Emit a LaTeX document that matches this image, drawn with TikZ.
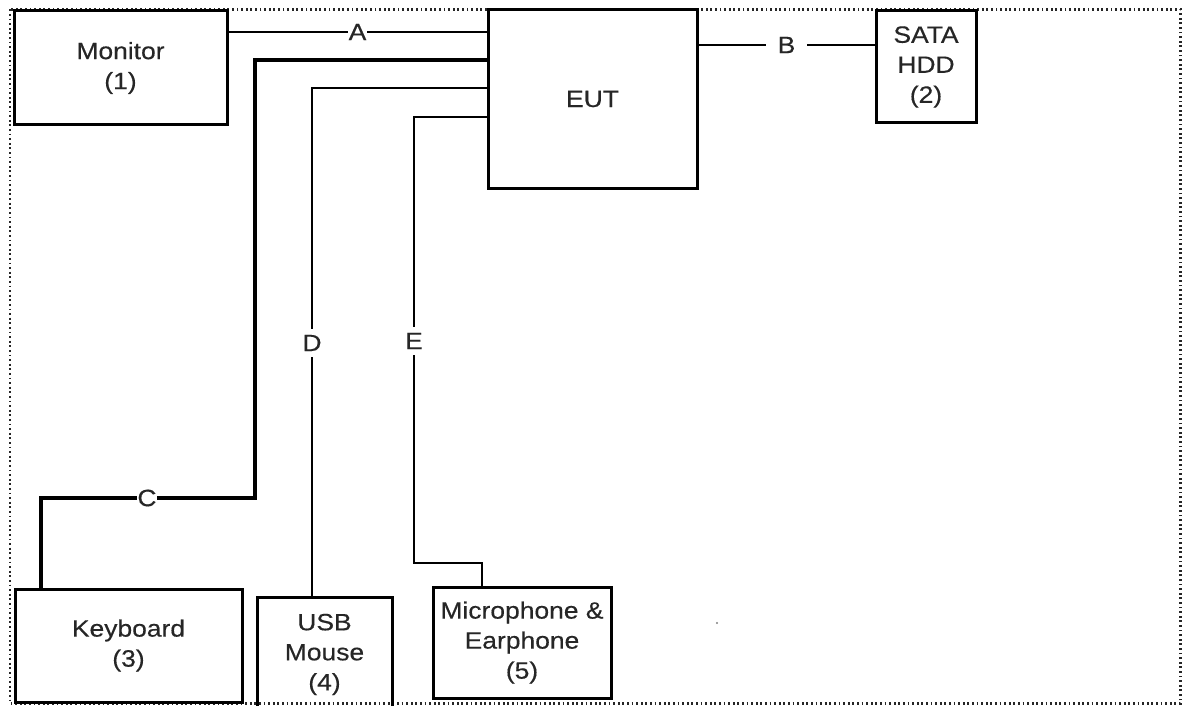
\documentclass[tikz,border=0pt]{standalone}
\usepackage{fontspec}
\setmainfont{Liberation Sans}[FakeStretch=1.12,FakeBold=0.4]
\begin{document}
\begin{tikzpicture}[x=1pt,y=-1pt,
  txt/.style={font=\fontsize{23.6}{30}\selectfont, text=black!85},
  box/.style={txt, draw, line width=3pt, inner sep=0pt, align=center},
  wire/.style={line width=2.4pt},
  lbl/.style={txt, fill=white, inner sep=1pt}]
\useasboundingbox (0,0) rectangle (1183,706);
\clip (0,0) rectangle (1183,706);
% dotted frame
\draw[black!85, line width=2.2pt, dash pattern=on 1.8pt off 2.8pt] (10,9.5) rectangle (1180.5,703.5);
% boxes
\node[box, minimum width=213pt, minimum height=114pt] (mon) at (120.5,68) {Monitor\\(1)};
\node[box, minimum width=209pt, minimum height=178pt] (eut) at (592.5,99) {EUT};
\node[box, minimum width=100pt, minimum height=112pt] (hdd) at (926,67) {SATA\\HDD\\(2)};
\node[box, minimum width=227pt, minimum height=113pt] (kb) at (128.5,645.5) {Keyboard\\(3)};
\node[box, minimum width=135pt, minimum height=115pt] (ms) at (324.5,654.5) {USB\\Mouse\\(4)};
\node[box, minimum width=178pt, minimum height=111pt] (mic) at (522,642.5) {Microphone \&\\Earphone\\(5)};
% routing points
\coordinate (ya) at (0,32);
\coordinate (yb) at (0,45);
\coordinate (c1) at (255,60);
\coordinate (c2) at (255,498);
\coordinate (c3) at (41,498);
\coordinate (d1) at (312,88);
\coordinate (e1) at (414,117);
\coordinate (e2) at (414,563);
\coordinate (e3) at (482,563);
% A
\draw[wire] (mon.east |- ya) -- node[lbl, inner sep=0.5pt] (la) {A} (eut.west |- ya);
% B
\draw[wire] (eut.east |- yb) -- node[lbl, inner xsep=12pt] (lb) {B} (hdd.west |- yb);
% C
\draw[wire, line width=3.5pt] (eut.west |- c1) -- (c1) -- (c2) -- (c3) -- (kb.north -| c3);
\node[lbl, inner sep=0.5pt] (lc) at (147,498) {C};
% D
\draw[wire, line width=2.7pt] (eut.west |- d1) -- (d1) -- (ms.north -| d1);
\node[lbl, inner xsep=2pt, inner ysep=6pt] (ld) at (312,343) {D};
% E
\draw[wire, line width=2.9pt] (eut.west |- e1) -- (e1) -- (e2) -- (e3) -- (mic.north -| e3);
\node[lbl, inner xsep=2pt, inner ysep=6pt] (le) at (414,341) {E};
% stray speck
\fill[black!50] (717,623) circle (1.2pt);
\end{tikzpicture}
\end{document}
